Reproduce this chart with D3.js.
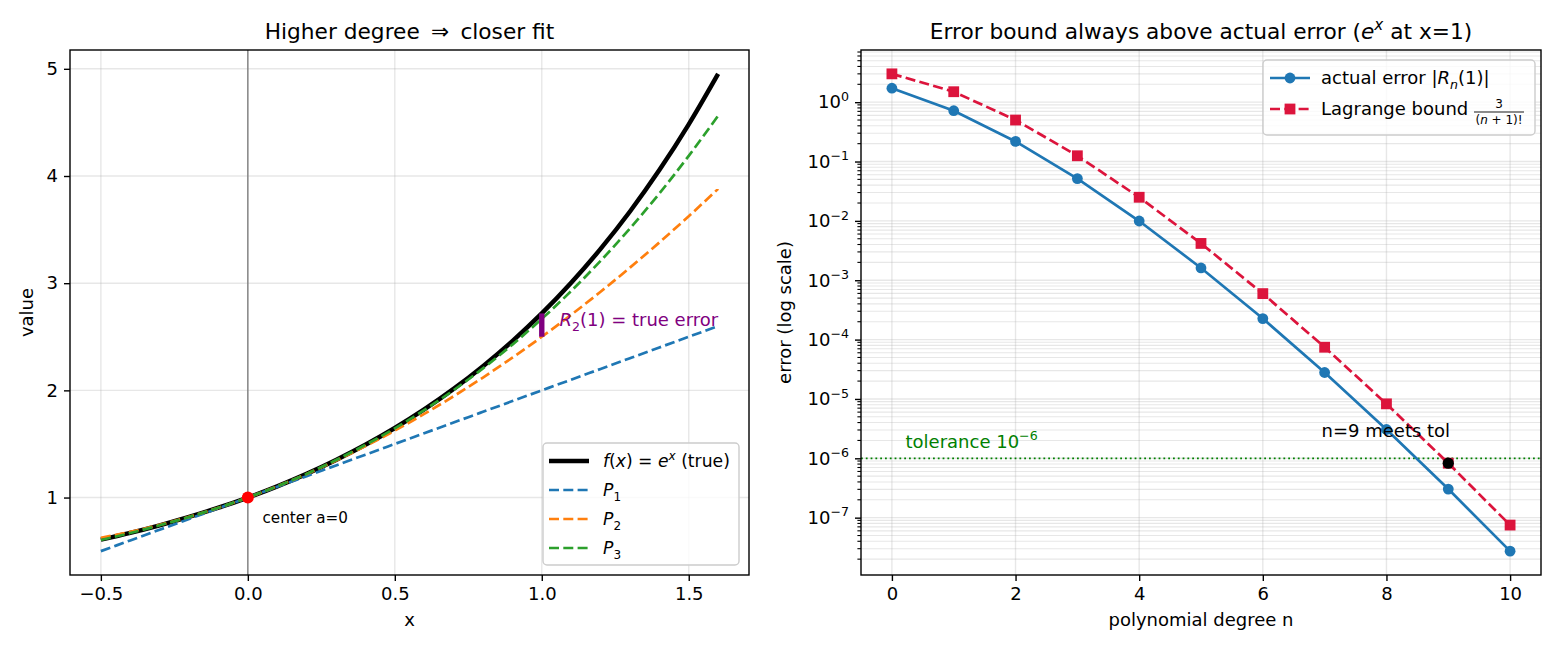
<!DOCTYPE html>
<html>
<head>
<meta charset="utf-8">
<script src="https://cdn.jsdelivr.net/npm/d3@7"></script>
<style>
  body { margin: 0; background: #fff; }
  svg text { font-family: "DejaVu Sans", sans-serif; }
</style>
</head>
<body>
<svg id="chart" width="1560" height="650"></svg>
<script>
// ---- left panel data: e^x and its Taylor polynomials around a=0 ----
var xs      = [-0.5,-0.4,-0.3,-0.2,-0.1,0,0.1,0.2,0.3,0.4,0.5,0.6,0.7,0.8,0.9,1.0,1.1,1.2,1.3,1.4,1.5,1.6];
var fTrue   = [0.607,0.670,0.741,0.819,0.905,1.000,1.105,1.221,1.350,1.492,1.649,1.822,2.014,2.226,2.460,2.718,3.004,3.320,3.669,4.055,4.482,4.953];
var p1Vals  = [0.50,0.60,0.70,0.80,0.90,1.00,1.10,1.20,1.30,1.40,1.50,1.60,1.70,1.80,1.90,2.00,2.10,2.20,2.30,2.40,2.50,2.60];
var p2Vals  = [0.625,0.680,0.745,0.820,0.905,1.000,1.105,1.220,1.345,1.480,1.625,1.780,1.945,2.120,2.305,2.500,2.705,2.920,3.145,3.380,3.625,3.880];
var p3Vals  = [0.604,0.669,0.741,0.819,0.905,1.000,1.105,1.221,1.350,1.491,1.646,1.816,2.002,2.205,2.427,2.667,2.927,3.208,3.511,3.837,4.188,4.563];
var leftXTicks = [-0.5, 0, 0.5, 1.0, 1.5];
var leftYTicks = [1, 2, 3, 4, 5];

// ---- right panel data: error at x=1 vs degree ----
var degrees   = [0,1,2,3,4,5,6,7,8,9,10];
var actualErr = [1.718,0.718,0.218,0.0516,0.00995,0.00161,2.26e-4,2.79e-5,3.06e-6,3.03e-7,2.73e-8];
var boundErr  = [3.0,1.5,0.5,0.125,0.025,0.00417,5.95e-4,7.44e-5,8.27e-6,8.27e-7,7.5e-8];
var tolerance = 1e-6;
var meetN = 9;
var rightXTicks = [0,2,4,6,8,10];
var rightYExps  = [-7,-6,-5,-4,-3,-2,-1,0];

var C_BLUE = "#1f77b4", C_ORANGE = "#ff7f0e", C_GREEN = "#2ca02c", C_CRIMSON = "#dc143c";
var FS = 18, FT = 21.7, FA = 15.2;

var svg = d3.select("#chart");

// rich text helper: parts = [{t, it, sub, sup}]
function rich(textSel, parts, size) {
  var shift = 0;
  parts.forEach(function(p) {
    var target = p.sub ? size*0.28 : (p.sup ? -size*0.42 : 0);
    var ts = textSel.append("tspan").text(p.t);
    if (p.it) ts.style("font-style", "italic");
    if (p.sub || p.sup) ts.attr("font-size", size*0.7);
    if (target !== shift) ts.attr("dy", target - shift);
    shift = target;
  });
  return textSel;
}

function styleAxis(g) {
  g.select(".domain").remove();
  g.selectAll(".tick line").attr("stroke", "#000").attr("stroke-width", 1.4);
  g.selectAll(".tick text").attr("font-size", FS).attr("fill", "#000").attr("font-family", "DejaVu Sans");
}

function frame(g, w, h) {
  g.append("rect").attr("x", 0).attr("y", 0).attr("width", w).attr("height", h)
    .attr("fill", "none").attr("stroke", "#000").attr("stroke-width", 1.4);
}

// =================== LEFT PANEL ===================
var L = {x: 70, y: 50, w: 679, h: 525};
var gl = svg.append("g").attr("transform", "translate(" + L.x + "," + L.y + ")");
var xL = d3.scaleLinear().domain([-0.605, 1.705]).range([0, L.w]);
var yL = d3.scaleLinear().domain([0.2774, 5.1756]).range([L.h, 0]);

// grid
gl.append("g").selectAll("line").data(leftXTicks).join("line")
  .attr("x1", d => xL(d)).attr("x2", d => xL(d)).attr("y1", 0).attr("y2", L.h)
  .attr("stroke", "#b0b0b0").attr("stroke-opacity", 0.3).attr("stroke-width", 1.4);
gl.append("g").selectAll("line").data(leftYTicks).join("line")
  .attr("y1", d => yL(d)).attr("y2", d => yL(d)).attr("x1", 0).attr("x2", L.w)
  .attr("stroke", "#b0b0b0").attr("stroke-opacity", 0.3).attr("stroke-width", 1.4);

// center line
gl.append("line").attr("x1", xL(0)).attr("x2", xL(0)).attr("y1", 0).attr("y2", L.h)
  .attr("stroke", "#808080").attr("stroke-width", 1.4);

var lineL = d3.line().x((d, i) => xL(xs[i])).y(d => yL(d)).curve(d3.curveMonotoneX);
gl.append("path").datum(fTrue).attr("d", lineL).attr("fill", "none")
  .attr("stroke", "#000").attr("stroke-width", 4.5);
[[p1Vals, C_BLUE], [p2Vals, C_ORANGE], [p3Vals, C_GREEN]].forEach(function(s) {
  gl.append("path").datum(s[0]).attr("d", lineL).attr("fill", "none")
    .attr("stroke", s[1]).attr("stroke-width", 2.7).attr("stroke-dasharray", "10,4.3");
});

// center point
gl.append("circle").attr("cx", xL(0)).attr("cy", yL(1)).attr("r", 6).attr("fill", "red");
// remainder segment at x=1
gl.append("line").attr("x1", xL(1)).attr("x2", xL(1)).attr("y1", yL(p2Vals[15])).attr("y2", yL(fTrue[15]))
  .attr("stroke", "purple").attr("stroke-width", 5.4);

rich(gl.append("text").attr("x", xL(1.06)).attr("y", yL(2.6)).attr("font-size", FS).attr("fill", "purple"),
  [{t: "R", it: true}, {t: "2", sub: true}, {t: "(1) = true error"}], FS);
gl.append("text").attr("x", xL(0.05)).attr("y", yL(0.76)).attr("font-size", FA).text("center a=0");

gl.append("g").attr("transform", "translate(0," + L.h + ")")
  .call(d3.axisBottom(xL).tickValues(leftXTicks).tickSize(6).tickPadding(6)
    .tickFormat(d => d3.format(".1f")(d).replace("-", "\u2212")))
  .call(styleAxis);
gl.append("g").call(d3.axisLeft(yL).tickValues(leftYTicks).tickSize(6).tickPadding(6).tickFormat(d3.format("d")))
  .call(styleAxis);
frame(gl, L.w, L.h);

gl.append("text").attr("x", L.w/2).attr("y", -11).attr("text-anchor", "middle").attr("font-size", FT)
  .text("Higher degree \u2009\u21D2\u2009 closer fit");
gl.append("text").attr("x", L.w/2).attr("y", 576).attr("text-anchor", "middle").attr("font-size", FS).text("x");
gl.append("text").attr("transform", "translate(-37," + (L.h/2) + ") rotate(-90)")
  .attr("text-anchor", "middle").attr("font-size", FS).text("value");

// left legend
var lg = gl.append("g").attr("transform", "translate(" + (543 - L.x) + "," + (443 - L.y) + ")");
lg.append("rect").attr("width", 196).attr("height", 122).attr("rx", 4)
  .attr("fill", "#fff").attr("fill-opacity", 0.8).attr("stroke", "#cccccc").attr("stroke-width", 1.4);
var legL = [
  {c: "#000", w: 4.5, dash: null, parts: [{t: "f", it: true}, {t: "("}, {t: "x", it: true}, {t: ") = "}, {t: "e", it: true}, {t: "x", it: true, sup: true}, {t: " (true)"}]},
  {c: C_BLUE, w: 2.7, dash: "10,4.3", parts: [{t: "P", it: true}, {t: "1", sub: true}]},
  {c: C_ORANGE, w: 2.7, dash: "10,4.3", parts: [{t: "P", it: true}, {t: "2", sub: true}]},
  {c: C_GREEN, w: 2.7, dash: "10,4.3", parts: [{t: "P", it: true}, {t: "3", sub: true}]}
];
legL.forEach(function(e, i) {
  var yy = 18 + i*29;
  lg.append("line").attr("x1", 6).attr("x2", 46).attr("y1", yy).attr("y2", yy)
    .attr("stroke", e.c).attr("stroke-width", e.w).attr("stroke-dasharray", e.dash);
  rich(lg.append("text").attr("x", 60).attr("y", yy + 6).attr("font-size", 17.2), e.parts, 17.2);
});

// =================== RIGHT PANEL ===================
var R = {x: 861, y: 50, w: 680, h: 525};
var gr = svg.append("g").attr("transform", "translate(" + R.x + "," + R.y + ")");
var xR = d3.scaleLinear().domain([-0.5, 10.5]).range([0, R.w]);
var yR = d3.scaleLog().domain([Math.pow(10, -7.966), Math.pow(10, 0.879)]).range([R.h, 0]);

var minorVals = [];
for (var e = -8; e <= 0; e++) for (var m = 2; m <= 9; m++) {
  var v = m * Math.pow(10, e);
  if (v >= yR.domain()[0] && v <= yR.domain()[1]) minorVals.push(v);
}
var majorVals = rightYExps.map(k => Math.pow(10, k));

gr.append("g").selectAll("line").data(minorVals).join("line")
  .attr("y1", d => yR(d)).attr("y2", d => yR(d)).attr("x1", 0).attr("x2", R.w)
  .attr("stroke", "#b0b0b0").attr("stroke-opacity", 0.3).attr("stroke-width", 1.1);
gr.append("g").selectAll("line").data(majorVals).join("line")
  .attr("y1", d => yR(d)).attr("y2", d => yR(d)).attr("x1", 0).attr("x2", R.w)
  .attr("stroke", "#b0b0b0").attr("stroke-opacity", 0.3).attr("stroke-width", 1.4);
gr.append("g").selectAll("line").data(rightXTicks).join("line")
  .attr("x1", d => xR(d)).attr("x2", d => xR(d)).attr("y1", 0).attr("y2", R.h)
  .attr("stroke", "#b0b0b0").attr("stroke-opacity", 0.3).attr("stroke-width", 1.4);

// tolerance line
gr.append("line").attr("x1", 0).attr("x2", R.w).attr("y1", yR(tolerance)).attr("y2", yR(tolerance))
  .attr("stroke", "green").attr("stroke-width", 1.8).attr("stroke-dasharray", "1.8,3");

var lineR = d3.line().x((d, i) => xR(degrees[i])).y(d => yR(d));
gr.append("path").datum(actualErr).attr("d", lineR).attr("fill", "none")
  .attr("stroke", C_BLUE).attr("stroke-width", 2.7);
gr.append("g").selectAll("circle").data(actualErr).join("circle")
  .attr("cx", (d, i) => xR(degrees[i])).attr("cy", d => yR(d)).attr("r", 5.4).attr("fill", C_BLUE);
gr.append("path").datum(boundErr).attr("d", lineR).attr("fill", "none")
  .attr("stroke", C_CRIMSON).attr("stroke-width", 2.7).attr("stroke-dasharray", "10,4.3");
gr.append("g").selectAll("rect").data(boundErr).join("rect")
  .attr("x", (d, i) => xR(degrees[i]) - 5.4).attr("y", d => yR(d) - 5.4)
  .attr("width", 10.8).attr("height", 10.8).attr("fill", C_CRIMSON);

gr.append("circle").attr("cx", xR(meetN)).attr("cy", yR(boundErr[meetN])).attr("r", 5.6).attr("fill", "#000");
gr.append("text").attr("x", xR(6.95)).attr("y", yR(2.3e-6)).attr("font-size", FS).text("n=9 meets tol");
rich(gr.append("text").attr("x", xR(0.22)).attr("y", yR(1.5e-6)).attr("font-size", FS).attr("fill", "green"),
  [{t: "tolerance 10"}, {t: "\u22126", sup: true}], FS);

gr.append("g").attr("transform", "translate(0," + R.h + ")")
  .call(d3.axisBottom(xR).tickValues(rightXTicks).tickSize(6).tickPadding(6).tickFormat(d3.format("d")))
  .call(styleAxis);
var yAxisR = gr.append("g").call(d3.axisLeft(yR).tickValues(majorVals).tickSize(6).tickPadding(6).tickFormat(""))
  .call(styleAxis);
yAxisR.selectAll(".tick").each(function(d) {
  var k = Math.round(Math.log10(d));
  var t = d3.select(this).append("text").attr("x", -12).attr("dy", "0.32em").attr("text-anchor", "end")
    .attr("font-size", FS).attr("fill", "#000");
  rich(t, [{t: "10"}, {t: k < 0 ? "\u2212" + (-k) : String(k), sup: true}], FS);
});
gr.append("g").selectAll("line").data(minorVals).join("line")
  .attr("x1", -3.6).attr("x2", 0).attr("y1", d => yR(d)).attr("y2", d => yR(d))
  .attr("stroke", "#000").attr("stroke-width", 1.1);
frame(gr, R.w, R.h);

rich(gr.append("text").attr("x", R.w/2).attr("y", -11).attr("text-anchor", "middle").attr("font-size", FT),
  [{t: "Error bound always above actual error ("}, {t: "e", it: true}, {t: "x", it: true, sup: true}, {t: " at x=1)"}], FT);
gr.append("text").attr("x", R.w/2).attr("y", 576).attr("text-anchor", "middle").attr("font-size", FS)
  .text("polynomial degree n");
gr.append("text").attr("transform", "translate(-70," + (R.h/2) + ") rotate(-90)")
  .attr("text-anchor", "middle").attr("font-size", FS).text("error (log scale)");

// right legend
var rg = gr.append("g").attr("transform", "translate(" + (1263 - R.x) + "," + (60 - R.y) + ")");
rg.append("rect").attr("width", 272).attr("height", 75).attr("rx", 4)
  .attr("fill", "#fff").attr("fill-opacity", 0.8).attr("stroke", "#cccccc").attr("stroke-width", 1.4);
// row 1
rg.append("line").attr("x1", 7).attr("x2", 47).attr("y1", 18).attr("y2", 18).attr("stroke", C_BLUE).attr("stroke-width", 2.7);
rg.append("circle").attr("cx", 27).attr("cy", 18).attr("r", 5.4).attr("fill", C_BLUE);
rich(rg.append("text").attr("x", 58).attr("y", 24).attr("font-size", FS),
  [{t: "actual error |"}, {t: "R", it: true}, {t: "n", it: true, sub: true}, {t: "(1)|"}], FS);
// row 2
rg.append("line").attr("x1", 7).attr("x2", 47).attr("y1", 49).attr("y2", 49).attr("stroke", C_CRIMSON)
  .attr("stroke-width", 2.7).attr("stroke-dasharray", "10,4.3");
rg.append("rect").attr("x", 21.6).attr("y", 43.6).attr("width", 10.8).attr("height", 10.8).attr("fill", C_CRIMSON);
rg.append("text").attr("x", 58).attr("y", 55).attr("font-size", FS).text("Lagrange bound");
var fx = 236;
rg.append("text").attr("x", fx).attr("y", 48).attr("text-anchor", "middle").attr("font-size", 12).text("3");
rg.append("line").attr("x1", fx - 25).attr("x2", fx + 25).attr("y1", 52).attr("y2", 52).attr("stroke", "#000").attr("stroke-width", 0.9);
rich(rg.append("text").attr("x", fx).attr("y", 64).attr("text-anchor", "middle").attr("font-size", 12),
  [{t: "("}, {t: "n", it: true}, {t: " + 1)!"}], 12);
</script>
</body>
</html>
